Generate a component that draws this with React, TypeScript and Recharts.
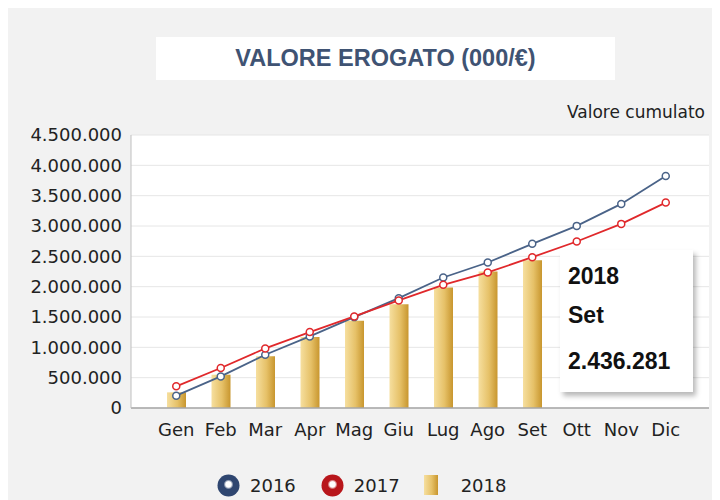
import React from 'react';
import {
  ComposedChart, Bar, Line, XAxis, YAxis, CartesianGrid, Tooltip, Legend,
} from 'recharts';

const months = ['Gen', 'Feb', 'Mar', 'Apr', 'Mag', 'Giu', 'Lug', 'Ago', 'Set', 'Ott', 'Nov', 'Dic'];
const values2016 = [203000, 521000, 878000, 1180000, 1498000, 1811000, 2151000, 2398000, 2706000, 3002000, 3364000, 3825000];
const values2017 = [357000, 659000, 982000, 1251000, 1509000, 1773000, 2031000, 2234000, 2486000, 2744000, 3035000, 3386000];
const values2018: (number | null)[] = [258000, 549000, 851000, 1169000, 1438000, 1712000, 1987000, 2250000, 2436281, null, null, null];
const yTicks = [0, 500000, 1000000, 1500000, 2000000, 2500000, 3000000, 3500000, 4000000, 4500000];
const highlightIndex = 8;

const data = months.map((m, i) => ({
  month: m,
  y2016: values2016[i],
  y2017: values2017[i],
  y2018: values2018[i],
}));

const fmt = (v: number) => Math.round(v).toString().replace(/\B(?=(\d{3})+(?!\d))/g, '.');

const FONT = '"DejaVu Sans", sans-serif';
const BLUE = '#4a6388';
const RED = '#e0282b';

const TooltipBox = (props: any) => {
  const { payload, label } = props;
  if (!payload || !payload.length) return null;
  const item = payload.find((p: any) => p.dataKey === 'y2018');
  if (!item || item.value == null) return null;
  return (
    <div
      style={{
        width: 133,
        height: 142,
        background: '#ffffff',
        boxShadow: '3px 4px 5px rgba(0,0,0,0.28)',
        fontFamily: '"Liberation Sans", Arial, sans-serif',
        fontWeight: 'bold',
        fontSize: 23,
        color: '#111',
        paddingLeft: 8,
        boxSizing: 'border-box',
      }}
    >
      <div style={{ height: 52, lineHeight: '52px' }}>{item.name}</div>
      <div style={{ height: 26, lineHeight: '26px' }}>{label}</div>
      <div style={{ paddingTop: 20, lineHeight: '26px' }}>{fmt(item.value)}</div>
    </div>
  );
};

const LegendContent = (props: any) => {
  const { payload } = props;
  return (
    <div style={{ display: 'flex', alignItems: 'center', paddingLeft: 209, height: 40, paddingTop: 10, boxSizing: 'border-box', fontFamily: FONT, fontSize: 18, color: '#222' }}>
      {(payload || []).map((p: any) => {
        let icon: React.ReactNode;
        if (p.dataKey === 'y2018') {
          icon = (
            <svg width={14} height={20} style={{ display: 'block' }}>
              <defs>
                <linearGradient id="legGold" x1="0" y1="0" x2="1" y2="0">
                  <stop offset="0%" stopColor="#f6df9f" />
                  <stop offset="55%" stopColor="#e6c168" />
                  <stop offset="100%" stopColor="#c8962e" />
                </linearGradient>
              </defs>
              <rect x={0} y={0} width={14} height={20} fill="url(#legGold)" />
            </svg>
          );
        } else {
          const c = p.dataKey === 'y2016' ? '#2f4670' : '#b8161b';
          const gid = 'leg' + p.dataKey;
          icon = (
            <svg width={23} height={23} style={{ display: 'block' }}>
              <defs>
                <radialGradient id={gid} cx="0.5" cy="0.45" r="0.5">
                  <stop offset="25%" stopColor="#ffffff" />
                  <stop offset="45%" stopColor={c} />
                  <stop offset="100%" stopColor={c} />
                </radialGradient>
              </defs>
              <circle cx={11.5} cy={11.5} r={11} fill={`url(#${gid})`} />
            </svg>
          );
        }
        const isBar = p.dataKey === 'y2018';
        return (
          <div key={p.dataKey} style={{ display: 'flex', alignItems: 'center', marginRight: p.dataKey === 'y2016' ? 25 : 24 }}>
            {icon}
            <span style={{ marginLeft: isBar ? 23 : 10 }}>{p.value}</span>
          </div>
        );
      })}
    </div>
  );
};

export default function App() {
  return (
    <div style={{ position: 'relative', width: 712, height: 492, background: '#f2f2f2', overflow: 'hidden' }}>
      <div
        style={{
          position: 'absolute', left: 148, top: 29, width: 459, height: 43, background: '#ffffff',
          display: 'flex', alignItems: 'center', justifyContent: 'center',
          fontFamily: '"Liberation Sans", Arial, sans-serif', fontWeight: 'bold', fontSize: 23.5, color: '#3f5373',
          zIndex: 2,
        }}
      >
        VALORE EROGATO (000/€)
      </div>
      <div
        style={{
          position: 'absolute', right: 15, top: 94, fontFamily: FONT, fontSize: 17, color: '#222', zIndex: 2,
        }}
      >
        Valore cumulato
      </div>
      <ComposedChart
        width={712}
        height={492}
        data={data}
        margin={{ top: 127, right: 11, left: 0, bottom: 0 }}
      >
        <defs>
          <linearGradient id="goldBar" x1="0" y1="0" x2="1" y2="0">
            <stop offset="0%" stopColor="#f6df9f" />
            <stop offset="55%" stopColor="#e6c168" />
            <stop offset="100%" stopColor="#c8962e" />
          </linearGradient>
        </defs>
        <CartesianGrid vertical={false} stroke="#e6e6e6" fill="#ffffff" />
        <XAxis
          dataKey="month"
          height={52}
          padding={{ left: 23, right: 21 }}
          tickLine={false}
          tickMargin={9}
          axisLine={{ stroke: '#a6a6a6', strokeWidth: 1.5 }}
          tick={{ fontFamily: FONT, fontSize: 18, fill: '#222' }}
          interval={0}
        />
        <YAxis
          width={123}
          domain={[0, 4500000]}
          ticks={yTicks}
          tickFormatter={fmt}
          tickLine={false}
          tickMargin={3}
          axisLine={{ stroke: '#bfbfbf' }}
          tick={{ fontFamily: FONT, fontSize: 18, fill: '#222' }}
        />
        <Bar dataKey="y2018" name="2018" fill="url(#goldBar)" barSize={19} isAnimationActive={false} legendType="rect" />
        <Line
          dataKey="y2016" name="2016" stroke={BLUE} strokeWidth={1.8}
          dot={{ r: 3.5, fill: '#ffffff', stroke: BLUE, strokeWidth: 1.5 }}
          activeDot={false} isAnimationActive={false}
        />
        <Line
          dataKey="y2017" name="2017" stroke={RED} strokeWidth={1.8}
          dot={{ r: 3.5, fill: '#ffffff', stroke: RED, strokeWidth: 1.5 }}
          activeDot={false} isAnimationActive={false}
        />
        <Legend
          verticalAlign="bottom"
          height={40}
          content={<LegendContent />}
        />
        <Tooltip
          active
          defaultIndex={highlightIndex}
          cursor={false}
          position={{ x: 552, y: 242 }}
          content={<TooltipBox />}
          isAnimationActive={false}
          wrapperStyle={{ outline: 'none' }}
        />
      </ComposedChart>
    </div>
  );
}
